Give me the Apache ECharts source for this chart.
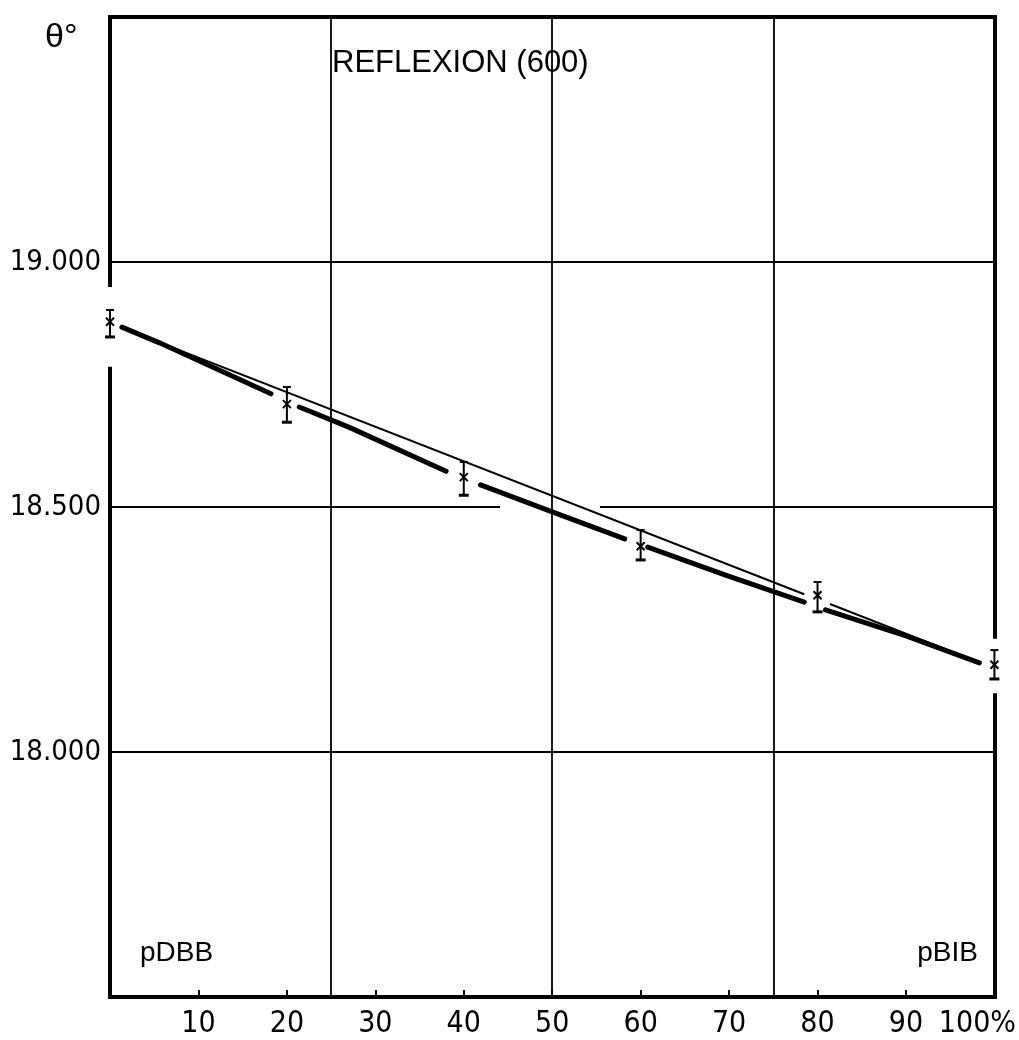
<!DOCTYPE html>
<html>
<head>
<meta charset="utf-8">
<script src="https://cdn.jsdelivr.net/npm/echarts@6/dist/echarts.min.js"></script>
<style>
  html, body { margin: 0; padding: 0; background: #fff; }
  #chart { width: 1019px; height: 1040px; }
</style>
</head>
<body>
<div id="chart"></div>
<script>
// Composition (% pBIB) and measured Bragg angle θ of the (600) reflexion
const composition = [0, 20, 40, 60, 80, 100];
const theta      = [18.878, 18.710, 18.561, 18.420, 18.320, 18.178];
const thetaHigh  = [18.902, 18.745, 18.592, 18.453, 18.347, 18.208];
const thetaLow   = [18.847, 18.673, 18.524, 18.392, 18.286, 18.149];

// Straight line joining the two pure compounds (broken near the 80 % point)
const straightSegments = [
  [[1.3, 18.866], [78.5, 18.322]],
  [[81.4, 18.302], [98.3, 18.183]]
];
// Curve through the measurements (broken around each error bar)
const curveSegments = [
  [[1.35, 18.867], [5.6, 18.835], [18.2, 18.731]],
  [[21.4, 18.704], [27, 18.663], [38, 18.573]],
  [[41.9, 18.545], [50, 18.490], [58.2, 18.435]],
  [[60.8, 18.418], [69.6, 18.361], [78.5, 18.306]],
  [[80.9, 18.290], [90, 18.237], [98.3, 18.182]]
];

// Axes
const xMin = 0, xMax = 100, xStep = 10;
const yMin = 17.5, yMax = 19.5, yStep = 0.5;
const yLabelled = [18.0, 18.5, 19.0];
const verticalGrid = [25, 50, 75];
const horizontalGrid = [18.0, 18.5, 19.0];
const horizontalGridGaps = { '18.5': [44.1, 55.4] };
const leftBorderGap = [18.782, 18.953];
const rightBorderGap = [18.116, 18.235];

const digitFont = '"DejaVu Sans Condensed", "Liberation Sans Narrow", sans-serif';
const textFont = '"Liberation Sans", Arial, sans-serif';

// Build grid line segments
const gridSegs = [];
verticalGrid.forEach(x => gridSegs.push({ coords: [[x, yMin], [x, yMax]] }));
horizontalGrid.forEach(y => {
  const gap = horizontalGridGaps[String(y)];
  if (gap) {
    gridSegs.push({ coords: [[xMin, y], [gap[0], y]] });
    gridSegs.push({ coords: [[gap[1], y], [xMax, y]] });
  } else {
    gridSegs.push({ coords: [[xMin, y], [xMax, y]] });
  }
});

// Frame with openings around the end-point error bars
const frameSegs = [
  { coords: [[xMin, yMin], [xMax, yMin]] },
  { coords: [[xMin, yMax], [xMax, yMax]] },
  { coords: [[xMin, yMin], [xMin, leftBorderGap[0]]] },
  { coords: [[xMin, leftBorderGap[1]], [xMin, yMax]] },
  { coords: [[xMax, yMin], [xMax, rightBorderGap[0]]] },
  { coords: [[xMax, rightBorderGap[1]], [xMax, yMax]] }
];

const errorData = composition.map((c, i) => [c, theta[i], thetaLow[i], thetaHigh[i]]);

const chart = echarts.init(document.getElementById('chart'), null, { renderer: 'canvas' });

chart.setOption({
  backgroundColor: '#fff',
  animation: false,
  title: [
    { text: 'θ°', left: 40, top: 16,
      textStyle: { fontFamily: textFont, fontSize: 34, fontWeight: 'normal', color: '#000' } },
    { text: 'REFLEXION (600)', left: 327, top: 43,
      textStyle: { fontFamily: textFont, fontSize: 31, fontWeight: 'normal', color: '#000' } },
    { text: 'pDBB', left: 135, top: 934,
      textStyle: { fontFamily: textFont, fontSize: 28, fontWeight: 'normal', color: '#000' } },
    { text: 'pBIB', right: 36, top: 934,
      textStyle: { fontFamily: textFont, fontSize: 28, fontWeight: 'normal', color: '#000' } }
  ],
  grid: { left: 110, right: 21, top: 17, bottom: 43, containLabel: false },
  xAxis: {
    type: 'value', min: xMin, max: xMax, interval: xStep,
    axisLine: { show: false },
    splitLine: { show: false },
    axisTick: { show: true, inside: true, length: 7, lineStyle: { color: '#000', width: 2 } },
    axisLabel: {
      margin: 12, color: '#000', fontFamily: digitFont, fontSize: 30,
      formatter: v => v === xMin ? '' : (v === xMax ? '{p|100%}' : String(v)),
      rich: { p: { fontFamily: digitFont, fontSize: 30, color: '#000', padding: [0, 34, 0, 0] } }
    }
  },
  yAxis: {
    type: 'value', min: yMin, max: yMax, interval: yStep,
    axisLine: { show: false },
    axisTick: { show: false },
    splitLine: { show: false },
    axisLabel: {
      margin: 9, color: '#000', fontFamily: digitFont, fontSize: 29,
      formatter: v => yLabelled.indexOf(v) >= 0 ? v.toFixed(3) : ''
    }
  },
  series: [
    {
      type: 'lines', coordinateSystem: 'cartesian2d', clip: false, silent: true, z: 1,
      lineStyle: { color: '#000', width: 1.8, opacity: 1 },
      data: gridSegs
    },
    {
      type: 'lines', coordinateSystem: 'cartesian2d', clip: false, silent: true, z: 5,
      lineStyle: { color: '#000', width: 4, opacity: 1, cap: 'square' },
      data: frameSegs
    },
    {
      type: 'lines', coordinateSystem: 'cartesian2d', polyline: true, clip: false, silent: true, z: 3,
      lineStyle: { color: '#000', width: 2, opacity: 1 },
      data: straightSegments.map(s => ({ coords: s }))
    },
    {
      type: 'lines', coordinateSystem: 'cartesian2d', polyline: true, clip: false, silent: true, z: 3,
      lineStyle: { color: '#000', width: 5, opacity: 1, cap: 'round', join: 'round' },
      data: curveSegments.map(s => ({ coords: s }))
    },
    {
      type: 'custom', clip: false, silent: true, z: 6,
      data: errorData,
      renderItem: (params, api) => {
        const x = api.value(0);
        const c = api.coord([x, api.value(1)]);
        const lo = api.coord([x, api.value(2)]);
        const hi = api.coord([x, api.value(3)]);
        const thin = { stroke: '#000', lineWidth: 2 };
        const thick = { stroke: '#000', lineWidth: 3 };
        return {
          type: 'group',
          children: [
            { type: 'line', shape: { x1: c[0], y1: hi[1], x2: c[0], y2: lo[1] }, style: thin },
            { type: 'line', shape: { x1: c[0] - 4, y1: hi[1], x2: c[0] + 4, y2: hi[1] }, style: thin },
            { type: 'line', shape: { x1: c[0] - 5, y1: lo[1], x2: c[0] + 5, y2: lo[1] }, style: thick },
            { type: 'line', shape: { x1: c[0] - 4, y1: c[1] - 4, x2: c[0] + 4, y2: c[1] + 4 }, style: thin },
            { type: 'line', shape: { x1: c[0] - 4, y1: c[1] + 4, x2: c[0] + 4, y2: c[1] - 4 }, style: thin }
          ]
        };
      }
    }
  ]
});
</script>
</body>
</html>
